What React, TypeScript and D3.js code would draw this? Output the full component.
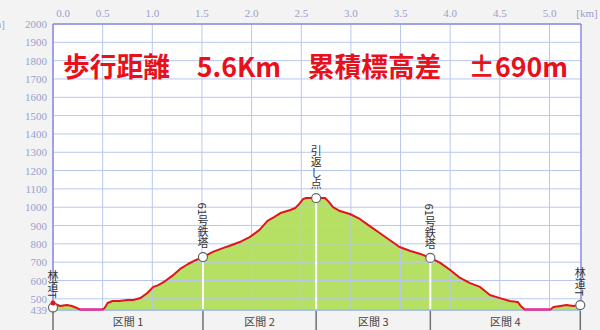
import React from "react";
import * as d3 from "d3";

const distKm = [0.00,0.07,0.14,0.19,0.24,0.27,0.50,0.52,0.55,0.60,0.67,0.75,0.81,0.88,0.95,1.01,1.06,1.13,1.20,1.28,1.36,1.44,1.51,1.61,1.71,1.80,1.88,1.98,2.08,2.16,2.23,2.29,2.39,2.44,2.47,2.52,2.55,2.65,2.74,2.78,2.82,2.89,2.99,3.09,3.19,3.29,3.39,3.49,3.60,3.70,3.80,3.90,4.00,4.10,4.20,4.30,4.40,4.50,4.60,4.68,4.71,4.75,5.01,5.04,5.11,5.17,5.24,5.31];
const elevM = [477,461,466,461,450,442,442,450,477,488,488,494,494,504,532,565,575,597,625,663,690,712,728,756,777,794,810,837,876,925,947,968,985,996,1012,1045,1050,1050,1050,1028,1001,979,963,936,897,859,821,783,761,745,723,696,657,614,586,565,521,504,488,483,461,442,442,455,461,466,461,466];
const roadRanges: [number, number][] = [[0.27, 0.50], [4.75, 5.01]];

const wpKm = [0.0, 1.51, 2.65, 3.80, 5.31];
const wpElev = [452, 728, 1050, 723, 466];
const wpNames = ["林道T", "61号鉄塔", "引返し点", "61号鉄塔", "林道T"];
const sectionNames = ["区間 1", "区間 2", "区間 3", "区間 4"];

const xTicks = [0, 0.5, 1.0, 1.5, 2.0, 2.5, 3.0, 3.5, 4.0, 4.5, 5.0];
const yTicks = [500, 600, 700, 800, 900, 1000, 1100, 1200, 1300, 1400, 1500, 1600, 1700, 1800, 1900, 2000];
const yMin = 439;
const title = "歩行距離　5.6Km　累積標高差　±690m";

export default function App() {
  const W = 600, H = 330;
  const left = 53, right = 581, top = 24, bottom = 310;
  const x = d3.scaleLinear().domain([0, 5.0]).range([left, left + 496.5]);
  const y = d3.scaleLinear().domain([yMin, 2000]).range([bottom, top]);
  const pts = distKm.map((d, i) => ({ d, e: elevM[i] }));
  const area = d3.area<any>().x(p => x(p.d)).y0(bottom).y1(p => y(p.e));
  const line = d3.line<any>().x(p => x(p.d)).y(p => y(p.e));
  const gridColor = "#b8c8ec";
  const axisColor = "#8a8ee0";
  const tickColor = "#98a0cc";
  const xMaxKm = x.invert(right);
  const gridX = d3.range(0, xMaxKm, 0.5);
  return (
    <svg width={W} height={H} style={{ position: "absolute", left: 0, top: 0, background: "#f3f3f3" }}>
      <rect x={left} y={top} width={right - left} height={bottom - top} fill="#ffffff" />
      <path d={area(pts) || ""} fill="#b6e064" />
      {yTicks.map(t => (
        <line key={"gy" + t} x1={left} x2={right} y1={y(t)} y2={y(t)} stroke={gridColor} strokeWidth={1} />
      ))}
      {gridX.map(t => (
        <line key={"gx" + t} x1={x(t)} x2={x(t)} y1={top} y2={bottom} stroke={gridColor} strokeWidth={1} />
      ))}
      {wpKm.map((k, i) => (
        <line key={"wl" + i} x1={x(k)} x2={x(k)} y1={y(wpElev[i])} y2={bottom} stroke="#ffffff" strokeWidth={2} />
      ))}
      <line x1={left} x2={right} y1={bottom} y2={bottom} stroke="#a8c0e8" strokeWidth={2} />
      <path d={line(pts) || ""} fill="none" stroke="#e3141c" strokeWidth={2} strokeLinejoin="round" />
      {roadRanges.map((r, i) => {
        const seg = pts.filter(p => p.d >= r[0] && p.d <= r[1]);
        return <path key={"rd" + i} d={line(seg) || ""} fill="none" stroke="#e030c0" strokeWidth={2} />;
      })}
      <line x1={left} x2={right} y1={top} y2={top} stroke={axisColor} strokeWidth={1.5} />
      <line x1={right} x2={right} y1={top} y2={bottom} stroke={axisColor} strokeWidth={1.5} />
      <line x1={left} x2={left} y1={top} y2={bottom} stroke={axisColor} strokeWidth={1.5} />
      {yTicks.map(t => (
        <text key={"yl" + t} x={47} y={y(t) + 4} textAnchor="end" fontSize={11} fill={tickColor} fontFamily="'Liberation Serif', serif">{t}</text>
      ))}
      <text x={47} y={bottom + 4} textAnchor="end" fontSize={11} fill={tickColor} fontFamily="'Liberation Serif', serif">{yMin}</text>
      <text x={5} y={top + 4} textAnchor="end" fontSize={11} fill={tickColor} fontFamily="'Liberation Serif', serif">[m]</text>
      {xTicks.map((t, i) => (
        <text key={"xl" + t} x={x(t) + (i === 0 ? 10 : 0)} y={17} textAnchor="middle" fontSize={11} fill={tickColor} fontFamily="'Liberation Serif', serif">{t.toFixed(1)}</text>
      ))}
      <text x={587} y={17} textAnchor="middle" fontSize={11} fill={tickColor} fontFamily="'Liberation Serif', serif">[km]</text>
      <text x={63} y={77} fontSize={27} fontWeight="bold" fill="#e8101a" fontFamily="'Noto Sans CJK JP', sans-serif" textLength={505} lengthAdjust="spacingAndGlyphs">{title}</text>
      {wpKm.map((k, i) => (
        <text key={"wn" + i} x={x(k)} y={y(wpElev[i]) - 9} textAnchor="end" fontSize={11} fill="#333" fontFamily="'Noto Sans CJK JP', sans-serif" style={{ writingMode: "vertical-rl" } as any}>{wpNames[i]}</text>
      ))}
      {wpKm.map((k, i) => (
        <circle key={"wc" + i} cx={x(k)} cy={y(wpElev[i])} r={4.5} fill="#ffffff" stroke="#666" strokeWidth={1.2} />
      ))}
      <circle cx={x(distKm[0])} cy={y(elevM[0])} r={2.5} fill="#e3141c" />
      {wpKm.map((k, i) => (
        <line key={"sb" + i} x1={x(k)} x2={x(k)} y1={bottom + 1} y2={H} stroke="#707070" strokeWidth={1.5} />
      ))}
      {sectionNames.map((s, i) => (
        <text key={"sn" + i} x={(x(wpKm[i]) + x(wpKm[i + 1])) / 2} y={326} textAnchor="middle" fontSize={11} fill="#444" fontFamily="'Noto Sans CJK JP', sans-serif">{s}</text>
      ))}
    </svg>
  );
}
